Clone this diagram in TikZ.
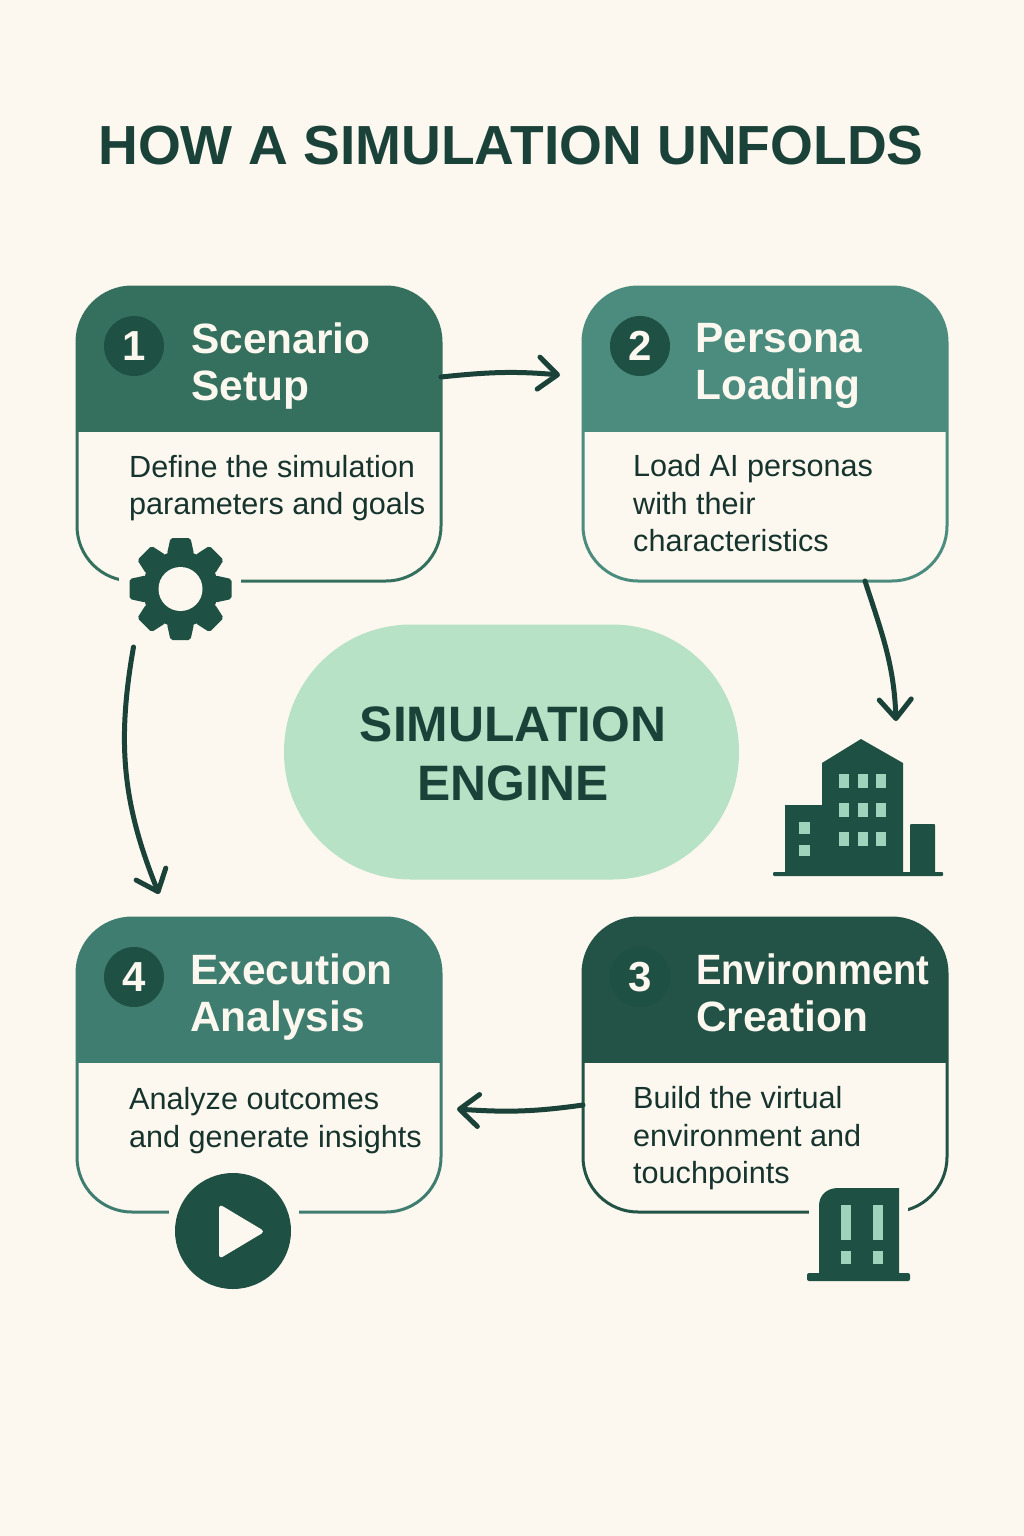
\documentclass[tikz,border=0pt]{standalone}
\usepackage{fontspec}
\setmainfont{Liberation Sans}
\usetikzlibrary{arrows.meta,calc,positioning}
\definecolor{paper}{HTML}{FCF8EF}
\definecolor{ink}{HTML}{1F5044}
\definecolor{deepink}{HTML}{1A4239}
\definecolor{bodyink}{HTML}{16332D}
\definecolor{hdA}{HTML}{35705E}
\definecolor{hdB}{HTML}{4B8C7F}
\definecolor{hdC}{HTML}{235246}
\definecolor{hdD}{HTML}{3F7D70}
\definecolor{pale}{HTML}{B8E2C6}
\definecolor{pane}{HTML}{9FD3BC}
\tikzset{card/.style={draw=#1, fill=paper, line width=3pt, rounded corners=55pt, outer sep=0pt, minimum width=364pt, minimum height=294pt,
	path picture={\fill[#1, sharp corners] (path picture bounding box.north west) rectangle ([yshift=2pt]path picture bounding box.east);}}}
\tikzset{badge/.style={circle, fill=ink, text=paper, minimum size=60pt, inner sep=0pt, font=\fontsize{42}{42}\selectfont\bfseries}}
\tikzset{headtext/.style={anchor=west, align=left, inner sep=0pt, text=paper, font=\fontsize{42.4}{47}\selectfont\bfseries}}
\tikzset{bodytext/.style={anchor=west, align=left, inner sep=0pt, text=bodyink, font=\fontsize{30.6}{37.5}\selectfont}}
\tikzset{gap/.style={fill=paper, inner sep=0pt, minimum height=20pt}}
\tikzset{flow/.style={->, color=deepink, line width=5pt, line cap=round}}
\begin{document}
\begin{tikzpicture}[x=1pt, y=-1pt, >={Straight Barb[length=19pt,width=32pt,round]}, node distance=142pt]
\fill[paper] (0,0) rectangle (1024,1536);
\useasboundingbox (0,0) rectangle (1024,1536);
\node[inner sep=0pt, text=deepink, font=\fontsize{55.1}{60}\selectfont\bfseries] (Title) at (511,146) {HOW A SIMULATION UNFOLDS};
% the four cards
\node[card=hdA] (C1) at (259,434) {};
\node[card=hdB, right=of C1] (C2) {};
\node[card=hdC, below=337pt of C2] (C3) {};
\node[card=hdD, left=of C3] (C4) {};
% gaps in the lower borders
\node[gap, minimum width=122pt] (G1) at (180,582) {};
\node[gap, minimum width=130pt] (G4) at (234,1214) {};
\node[gap, minimum width=99pt] (G3) at (858.5,1214) {};
% badges
\node[badge] (N1) at (134,346) {1};
\node[badge] (N2) at (640,346) {2};
\node[badge] (N3) at (640,977) {3};
\node[badge] (N4) at (134,977) {4};
% headings
\node[headtext] (H1) at (191,366) {Scenario\\Setup};
\node[headtext] (H2) at (695,366) {Persona\\Loading};
\node[headtext] (H3) at (696,992.5) {\scalebox{.9}[1]{Environment}\\Creation};
\node[headtext] (H4) at (190,997) {Execution\\Analysis};
% texts
\node[bodytext] (T1) at (129,488) {Define the simulation\\parameters and goals};
\node[bodytext] (T2) at (633,503.5) {Load AI personas\\with their\\characteristics};
\node[bodytext] (T3) at (633,1138.5) {Build the virtual\\environment and\\touchpoints};
\node[bodytext] (T4) at (129,1120.5) {Analyze outcomes\\and generate insights};
% centre
\node[fill=pale, rounded corners=127pt, minimum width=455pt, minimum height=255pt] (Engine) at (511.5,752) {};
\node[align=center, inner sep=0pt, text=deepink, font=\fontsize{49.8}{59}\selectfont\bfseries] (EngineText) at (513,754) {SIMULATION\\ENGINE};
% gear
\node[circle, fill=ink, minimum size=76pt, inner sep=0pt] (Gear) at (180.5,589) {};
\foreach \a in {0,45,...,315}
	\fill[ink, rounded corners=2pt, rotate around={\a:(Gear)}] (167,554) -- (170.5,538) -- (190.5,538) -- (194,554) -- cycle;
\node[circle, fill=paper, minimum size=44pt, inner sep=0pt] (Hole) at (Gear) {};
% play button
\node[circle, fill=ink, minimum size=116pt, inner sep=0pt] (Play) at (233,1231) {};
\fill[paper, rounded corners=4pt] (219,1204) -- (265,1231.5) -- (219,1259) -- cycle;
% tall building
\fill[ink] (785,872) -- (785,805) -- (822,805) -- (822,763) -- (861,739) -- (903,763) -- (903,874) -- (785,874) -- cycle;
\fill[ink, rounded corners=1pt] (910,874) -- (910,824) -- (935,824) -- (935,874) -- cycle;
\fill[ink, rounded corners=1pt] (773,872) rectangle (943,876);
\foreach \x in {839,857.5,876}
	\foreach \y in {774,803,832}
		\fill[pane] (\x,\y) rectangle ++(10,14);
\fill[pane] (799,822) rectangle ++(11,12);
\fill[pane] (799,845) rectangle ++(11,11);
% small building
\fill[ink] (819,1276) -- (819,1206) .. controls (819,1195) and (827,1188) .. (838,1188) -- (899,1188) -- (899,1276) -- cycle;
\fill[ink, rounded corners=2pt] (807,1273) rectangle (910,1281);
\fill[pane] (841,1205) rectangle (851,1240);
\fill[pane] (873,1205) rectangle (883,1240);
\fill[pane] (841,1251) rectangle (851,1264);
\fill[pane] (873,1251) rectangle (883,1264);
% free ends of the arrows
\coordinate (A2) at (560,375);
\coordinate (A3) at (896,721);
\coordinate (A4) at (457,1109);
\coordinate (A1) at (159,894);
\path[flow] ([yshift=57pt]C1.east) edge[out=6, in=175] (A2);
\path[flow] ([xshift=100pt]C2.south) edge[out=-72, in=92] (A3);
\path[flow] ([yshift=-40pt]C3.west) edge[out=188, in=-4] (A4);
\path[flow] ([xshift=-47pt,yshift=-58pt]Gear.center) edge[out=-100, in=112] (A1);
\end{tikzpicture}
\end{document}
